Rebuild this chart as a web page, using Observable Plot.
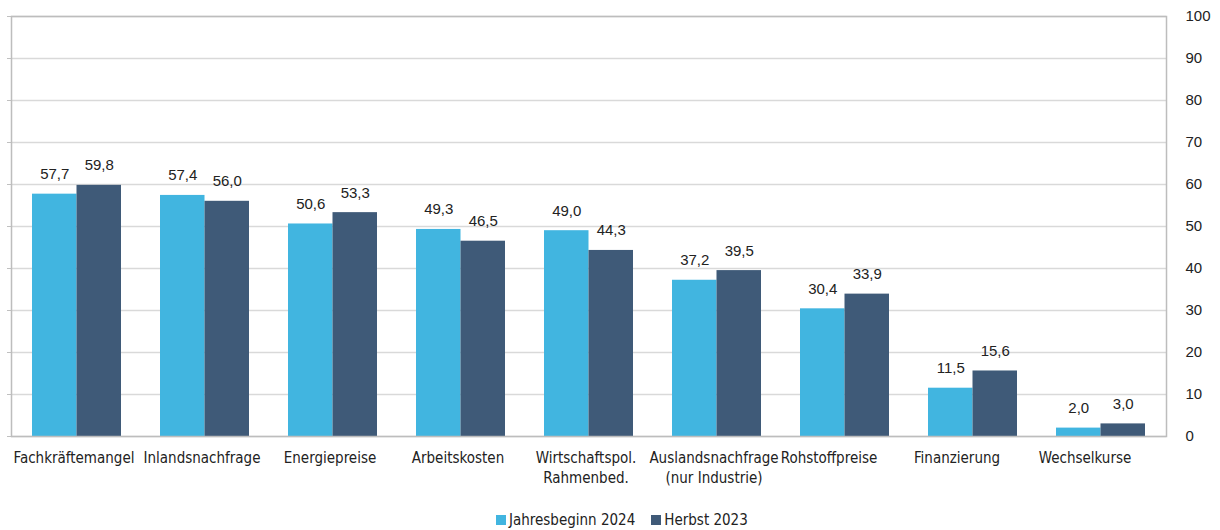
<!DOCTYPE html>
<html>
<head>
<meta charset="utf-8">
<script src="https://cdn.jsdelivr.net/npm/d3@7"></script>
<script src="https://cdn.jsdelivr.net/npm/@observablehq/plot@0.6"></script>
<style>
  html, body { margin: 0; padding: 0; background: #fff; }
  #chart { position: relative; width: 1220px; height: 530px; font-family: "DejaVu Sans Condensed", "DejaVu Sans", sans-serif; color: #222; }
  .legend { position: absolute; left: 496px; top: 511px; display: flex; align-items: center; font-size: 15px; white-space: nowrap; }
  .legend span.sw { display: inline-block; width: 10px; height: 10px; margin-right: 3px; }
  .legend .item { display: flex; align-items: center; margin-right: 16px; }
</style>
</head>
<body>
<div id="chart"></div>
<script>
// Hemmnisse der Geschäftstätigkeit, Anteil der Unternehmen in %
const categories = [
  "Fachkräftemangel", "Inlandsnachfrage", "Energiepreise", "Arbeitskosten",
  "Wirtschaftspol.\nRahmenbed.", "Auslandsnachfrage\n(nur Industrie)",
  "Rohstoffpreise", "Finanzierung", "Wechselkurse"
];
const jahresbeginn2024 = [57.7, 57.4, 50.6, 49.3, 49.0, 37.2, 30.4, 11.5, 2.0];
const herbst2023 = [59.8, 56.0, 53.3, 46.5, 44.3, 39.5, 33.9, 15.6, 3.0];
const seriesNames = ["Jahresbeginn 2024", "Herbst 2023"];
const seriesColors = ["#41b5e0", "#3f5a78"];
const yTicks = [0, 10, 20, 30, 40, 50, 60, 70, 80, 90, 100];

const rowsA = categories.map((c, i) => ({category: c, value: jahresbeginn2024[i]}));
const rowsB = categories.map((c, i) => ({category: c, value: herbst2023[i]}));

const fmt = v => v.toFixed(1).replace(".", ",");
const half = 44.5;   // pixel width of each bar inside a group
const gap = 0.3065;  // share of each category slot left empty
const labelFont = '"DejaVu Sans Condensed", "DejaVu Sans", sans-serif';
const numberFont = '"Liberation Sans", Arial, sans-serif';

const chart = Plot.plot({
  width: 1220,
  height: 500,
  marginLeft: 11,
  marginRight: 54,
  marginTop: 16,
  marginBottom: 64,
  style: {fontFamily: labelFont, fontSize: "15px", color: "#222", background: "#fff"},
  x: {domain: categories, paddingInner: gap, paddingOuter: gap / 2, label: null},
  y: {domain: [0, 100], label: null},
  marks: [
    Plot.gridY(yTicks, {stroke: "#d9d9d9", strokeOpacity: 1, strokeWidth: 1.5}),
    Plot.axisY(yTicks, {anchor: "left", tickSize: 4, stroke: "#c0c0c0", tickFormat: () => "", label: null}),
    Plot.axisY(yTicks, {anchor: "right", tickSize: 0, tickPadding: 19, textAnchor: "start", fontSize: 15, fontFamily: numberFont, fill: "#222", label: null}),
    // category labels; the last three sit a little left of their groups
    Plot.axisX(categories.slice(0, 6), {tickSize: 0, tickPadding: 12, dx: -3, fontSize: 15, lineHeight: 1.35, fill: "#222", label: null}),
    Plot.axisX(categories.slice(6), {tickSize: 0, tickPadding: 12, dx: -16, fontSize: 15, lineHeight: 1.35, fill: "#222", label: null}),
    Plot.barY(rowsA, {x: "category", y: "value", fill: seriesColors[0], insetLeft: 0, insetRight: half}),
    Plot.barY(rowsB, {x: "category", y: "value", fill: seriesColors[1], insetLeft: half, insetRight: 0}),
    Plot.text(rowsA, {x: "category", y: "value", text: d => fmt(d.value), dx: -half / 2, dy: -15, lineAnchor: "bottom", fontSize: 15, fontFamily: numberFont, fill: "#222"}),
    Plot.text(rowsB, {x: "category", y: "value", text: d => fmt(d.value), dx: half / 2, dy: -15, lineAnchor: "bottom", fontSize: 15, fontFamily: numberFont, fill: "#222"}),
    Plot.frame({stroke: "#bdbdbd", strokeWidth: 1.5})
  ]
});

const root = document.getElementById("chart");
root.appendChild(chart);

const legend = document.createElement("div");
legend.className = "legend";
seriesNames.forEach((name, i) => {
  const item = document.createElement("div");
  item.className = "item";
  const sw = document.createElement("span");
  sw.className = "sw";
  sw.style.background = seriesColors[i];
  item.appendChild(sw);
  item.appendChild(document.createTextNode(name));
  legend.appendChild(item);
});
root.appendChild(legend);
</script>
</body>
</html>
